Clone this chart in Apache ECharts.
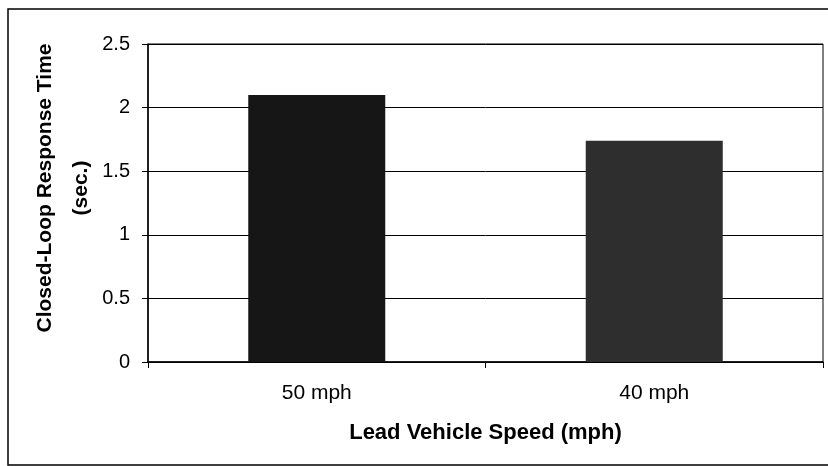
<!DOCTYPE html>
<html>
<head>
<meta charset="utf-8">
<script src="https://cdn.jsdelivr.net/npm/echarts@6/dist/echarts.min.js"></script>
<style>
  html, body { margin: 0; padding: 0; background: #fff; }
  #chart { width: 828px; height: 466px; }
</style>
</head>
<body>
<div id="chart"></div>
<script>
// data
const categories = ['50 mph', '40 mph'];
const responseTimes = [2.1, 1.74];
const barColors = ['#161616', '#2e2e2e'];
const yTicks = { min: 0, max: 2.5, interval: 0.5 };

const font = "'Liberation Sans', Arial, sans-serif";

const chart = echarts.init(document.getElementById('chart'));

const option = {
    backgroundColor: '#fff',
    animation: false,
    graphic: [
        {
            type: 'rect',
            shape: { x: 8, y: 9, width: 840, height: 456 },
            style: { fill: 'none', stroke: '#000', lineWidth: 1.5 },
            silent: true
        }
    ],
    grid: {
        left: 148,
        right: 5,
        top: 44,
        bottom: 104,
        show: true,
        borderColor: '#000',
        borderWidth: 1
    },
    xAxis: {
        type: 'category',
        data: categories,
        boundaryGap: true,
        name: 'Lead Vehicle Speed (mph)',
        nameLocation: 'middle',
        nameGap: 60,
        nameMoveOverlap: false,
        nameTextStyle: { fontFamily: font, fontSize: 22, fontWeight: 'bold', color: '#000' },
        axisLine: { lineStyle: { color: '#000', width: 1.5 } },
        axisTick: { show: true, length: 6, alignWithLabel: false, lineStyle: { color: '#000' } },
        axisLabel: { margin: 21, fontFamily: font, fontSize: 21, color: '#000' },
        splitLine: { show: false }
    },
    yAxis: {
        type: 'value',
        min: yTicks.min,
        max: yTicks.max,
        interval: yTicks.interval,
        name: 'Closed-Loop Response Time\n(sec.)',
        nameLocation: 'middle',
        nameGap: 49,
        nameMoveOverlap: false,
        nameTextStyle: {
            fontFamily: font, fontSize: 21, fontWeight: 'bold', color: '#000',
            lineHeight: 36, padding: [0, 0, 0, 30]
        },
        axisLine: { show: true, lineStyle: { color: '#000', width: 1.5 } },
        axisTick: { show: true, length: 6, lineStyle: { color: '#000' } },
        axisLabel: { margin: 18, fontFamily: font, fontSize: 20, color: '#000' },
        splitLine: { show: true, lineStyle: { color: '#000', width: 1 } }
    },
    series: [
        {
            type: 'bar',
            data: responseTimes.map((v, i) => ({ value: v, itemStyle: { color: barColors[i] } })),
            barWidth: 137
        }
    ]
};

chart.setOption(option);
</script>
</body>
</html>
